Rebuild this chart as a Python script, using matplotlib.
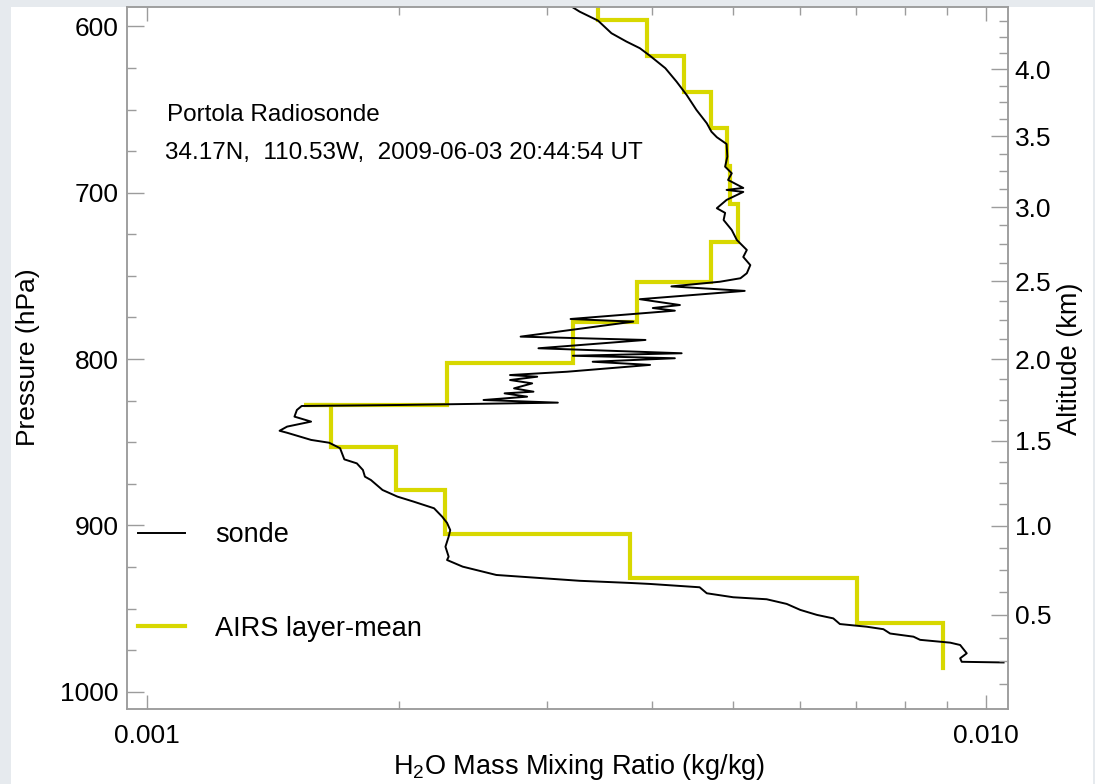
import numpy as np
import matplotlib
matplotlib.use('Agg')
import matplotlib.pyplot as plt
from matplotlib.ticker import FixedLocator, FixedFormatter, NullFormatter
from matplotlib.patches import Rectangle

plt.rcParams['font.family'] = ['Liberation Sans', 'DejaVu Sans']
plt.rcParams['mathtext.default'] = 'regular'

# sonde profile: pressure (hPa) and H2O mixing ratio (g/kg)
sonde_p = [587.7, 591.1, 596.5, 604.1, 609.1, 613.1, 617.7, 625.1, 633.2, 641.2,
           650.2, 658.2, 663.3, 666.6, 670.7, 678.3, 684.3, 688.3, 692.3, 697.1,
           698.3, 699.5, 704.3, 709.3, 712.1, 716.4, 722.4, 728.4, 734.4, 738.6,
           743.5, 748.4, 751.4, 753.5, 756.3, 759.0, 764.0, 767.5, 769.3, 770.9,
           775.9, 777.5, 786.5, 788.5, 793.5, 796.5, 798.0, 799.5, 801.6, 803.5,
           807.6, 809.6, 810.6, 812.6, 814.6, 817.6, 819.6, 820.6, 822.6, 824.6,
           826.2, 827.6, 828.2, 830.6, 834.6, 837.6, 840.6, 843.1, 844.3, 848.6,
           850.3, 853.6, 860.3, 862.7, 866.7, 870.7, 872.7, 878.7, 882.7, 885.7,
           889.7, 894.8, 898.5, 902.8, 906.8, 912.8, 918.8, 920.8, 924.8, 929.8,
           931.2, 933.3, 934.6, 935.2, 937.2, 940.8, 943.2, 944.4, 947.2, 950.8,
           953.8, 955.9, 959.3, 960.9, 962.4, 965.0, 966.9, 968.8, 970.5, 971.9,
           976.9, 979.9, 982.0, 982.4]
sonde_q = [3.20, 3.28, 3.45, 3.58, 3.73, 3.87, 3.98, 4.15, 4.28, 4.40,
           4.52, 4.65, 4.71, 4.78, 4.91, 4.92, 4.89, 4.98, 4.93, 5.14,
           4.91, 5.14, 4.91, 4.78, 4.89, 4.87, 4.98, 5.05, 5.19, 5.14,
           5.24, 5.19, 5.10, 4.82, 4.22, 5.16, 3.87, 4.32, 4.01, 4.26,
           3.20, 3.80, 2.79, 3.93, 2.93, 4.34, 3.22, 4.26, 3.40, 3.98,
           3.17, 2.71, 2.92, 2.71, 2.88, 2.74, 2.89, 2.67, 2.84, 2.52,
           3.09, 2.00, 1.53, 1.51, 1.50, 1.57, 1.47, 1.44, 1.47, 1.57,
           1.65, 1.70, 1.72, 1.78, 1.81, 1.82, 1.85, 1.91, 1.99, 2.08,
           2.20, 2.25, 2.28, 2.30, 2.29, 2.27, 2.29, 2.28, 2.38, 2.61,
           2.86, 3.28, 3.77, 3.98, 4.56, 4.65, 5.00, 5.48, 5.79, 6.01,
           6.29, 6.58, 6.70, 7.21, 7.55, 7.69, 8.20, 8.35, 9.07, 9.32,
           9.49, 9.32, 9.36, 10.5]

# AIRS layer boundaries (hPa) and layer-mean mixing ratio (g/kg)
airs_levels = [575.52, 596.31, 617.51, 639.14, 661.19, 683.67, 706.57, 729.89,
               753.63, 777.79, 802.37, 827.37, 827.9, 852.79, 878.62, 904.87,
               931.52, 958.59, 986.0]
airs_q = [3.45, 3.95, 4.37, 4.71, 4.92, 4.95, 5.07, 4.70, 3.84, 3.22,
          2.28, 1.54, 1.66, 1.98, 2.27, 3.77, 7.03, 8.88]

# altitude axis: ln(p) = a + b*z + c*z^2 fitted to the right-hand tick marks
alt_coef = (6.917357, -0.112955, -0.0016767)
alt_major = [0.5, 1.0, 1.5, 2.0, 2.5, 3.0, 3.5, 4.0]
alt_minor = np.arange(0.125, 4.4, 0.125)

x_major = [0.001, 0.010]
x_major_labels = ['0.001', '0.010']
x_minor = [0.002, 0.003, 0.004, 0.005, 0.006, 0.007, 0.008, 0.009]
p_major = [600, 700, 800, 900, 1000]
p_minor = np.arange(600, 1001, 25)


def alt_to_p(z):
    z = np.asarray(z, dtype=float)
    a, b, c = alt_coef
    return np.exp(a + b * z + c * z ** 2)


gray = '#9c9c9c'
fig = plt.figure(figsize=(10.95, 7.84), dpi=100, facecolor='#e6eaee')
fig.patches.append(Rectangle((11 / 1095, 0), 1082 / 1095, 777 / 784,
                             transform=fig.transFigure, facecolor='white',
                             edgecolor='none', zorder=-10))

ax = fig.add_axes([0.11571, 0.09605, 0.80457, 0.89464])
ax.set_xscale('log')
ax.set_xlim(0.0009466, 0.010619)
ax.set_ylim(1010.2, 588.5)

# AIRS step profile
ax_x = np.repeat(np.array(airs_q) * 1e-3, 2)
ax_y = np.column_stack([airs_levels[:-1], airs_levels[1:]]).ravel()
airs_line, = ax.plot(ax_x, ax_y, color='#d8d800', lw=3.0, solid_joinstyle='miter')
sonde_line, = ax.plot(np.array(sonde_q) * 1e-3, sonde_p, color='black', lw=1.4)

ax.xaxis.set_major_locator(FixedLocator(x_major))
ax.xaxis.set_major_formatter(FixedFormatter(x_major_labels))
ax.xaxis.set_minor_locator(FixedLocator(x_minor))
ax.xaxis.set_minor_formatter(NullFormatter())
ax.yaxis.set_major_locator(FixedLocator(p_major))
ax.yaxis.set_minor_locator(FixedLocator([p for p in p_minor if p not in p_major]))

for s in ax.spines.values():
    s.set_color(gray)
    s.set_linewidth(1.1)

ax.tick_params(which='both', direction='in', color=gray, labelcolor='black',
               labelsize=19, width=1.0)
ax.tick_params(axis='y', which='major', length=12, pad=6, right=False)
ax.tick_params(axis='y', which='minor', length=6.5, right=False)
ax.tick_params(axis='x', which='major', length=10, pad=11, top=True)
ax.tick_params(axis='x', which='minor', length=6, top=True)

ax2 = ax.twinx()
ax2.set_ylim(ax.get_ylim())
ax2.yaxis.set_major_locator(FixedLocator(alt_to_p(alt_major)))
ax2.yaxis.set_major_formatter(FixedFormatter(['%.1f' % z for z in alt_major]))
ax2.yaxis.set_minor_locator(FixedLocator(alt_to_p([z for z in alt_minor if z not in alt_major])))
ax2.tick_params(which='both', direction='in', color=gray, labelcolor='black',
                labelsize=19, width=1.0)
ax2.tick_params(which='major', length=12, pad=5)
ax2.tick_params(which='minor', length=6.5)
for s in ax2.spines.values():
    s.set_color(gray)
    s.set_linewidth(1.1)

leg = ax.legend([sonde_line, airs_line], ['sonde', 'AIRS layer-mean'],
                loc='upper left', bbox_to_anchor=(0.0128, 0.266), frameon=False,
                fontsize=19.5, borderpad=0, borderaxespad=0, handlelength=1.75,
                handletextpad=1.1, labelspacing=2.5)

fig.text(166.7 / 1095, 1 - 120.7 / 784, 'Portola Radiosonde', fontsize=17.5,
         va='baseline', ha='left')
fig.text(165 / 1095, 1 - 159.3 / 784,
         '34.17N,  110.53W,  2009-06-03 20:44:54 UT', fontsize=17.5,
         va='baseline', ha='left')

fig.text(579 / 1095, 1 - 774 / 784, 'H$_2$O Mass Mixing Ratio (kg/kg)',
         fontsize=19.5, ha='center', va='baseline')
fig.text(28 / 1095, 1 - 357 / 784, 'Pressure (hPa)', fontsize=19,
         rotation=90, ha='center', va='center')
fig.text(1070 / 1095, 1 - 359 / 784, 'Altitude (km)', fontsize=19.5,
         rotation=90, ha='center', va='center')

fig.savefig('out.png', dpi=100, facecolor=fig.get_facecolor())
